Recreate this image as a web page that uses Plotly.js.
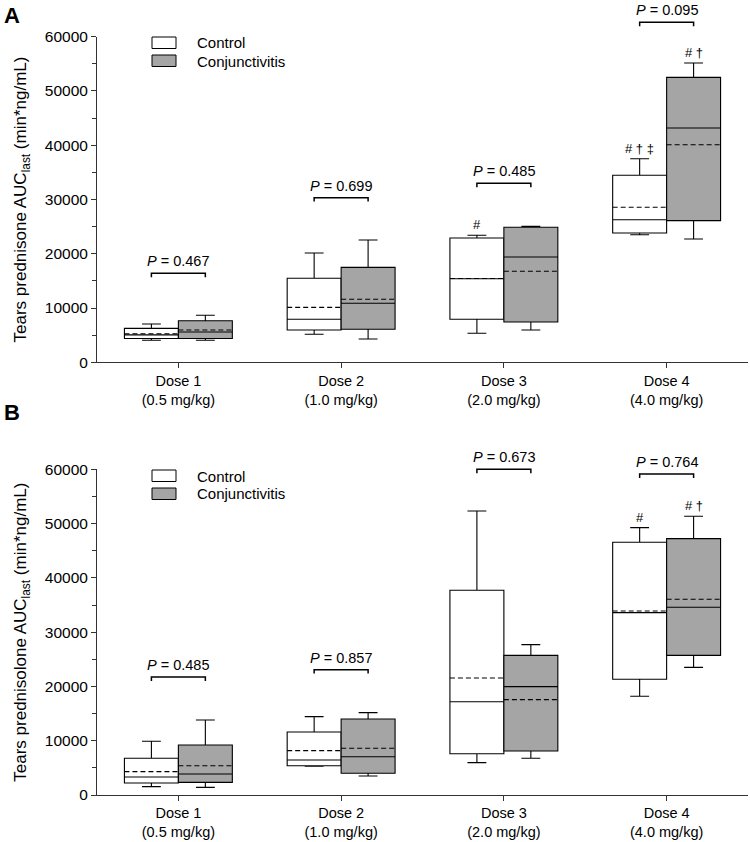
<!DOCTYPE html>
<html>
<head>
<meta charset="utf-8">
<script src="https://cdn.plot.ly/plotly-3.0.1.min.js"></script>
<style>
  html, body { margin: 0; padding: 0; background: #fff; }
  #chart { width: 750px; height: 842px; }
</style>
</head>
<body>
<div id="chart"></div>
<script>
// ---------- data ----------
const doses = ['Dose 1<br>(0.5 mg/kg)', 'Dose 2<br>(1.0 mg/kg)', 'Dose 3<br>(2.0 mg/kg)', 'Dose 4<br>(4.0 mg/kg)'];
const groups = ['Control', 'Conjunctivitis'];

// Panel A: tears prednisone AUClast
const A_ctrl_low  = [4050, 5160, 5340, 23510];
const A_ctrl_q1   = [4380, 5950, 7920, 23830];
const A_ctrl_med  = [5050, 7920, 15400, 26280];
const A_ctrl_mean = [5250, 10130, 15450, 28560];
const A_ctrl_q3   = [6260, 15480, 22900, 34460];
const A_ctrl_high = [7060, 20140, 23400, 37520];

const A_conj_low  = [4050, 4290, 5950, 22720];
const A_conj_q1   = [4380, 6080, 7430, 26110];
const A_conj_med  = [5580, 10870, 19400, 43170];
const A_conj_mean = [5950, 11610, 16770, 40100];
const A_conj_q3   = [7670, 17500, 24880, 52510];
const A_conj_high = [8660, 22540, 25060, 55150];

const A_pvals    = ['0.467', '0.699', '0.485', '0.095'];
const A_brackets = [16400, 30330, 32980, 62650];
const A_ctrl_sig = ['', '', '#', '# \u2020 \u2021'];
const A_conj_sig = ['', '', '', '# \u2020'];

// Panel B: tears prednisolone AUClast
const B_ctrl_low  = [1540, 5300, 5960, 18180];
const B_ctrl_q1   = [2210, 5400, 7610, 21310];
const B_ctrl_med  = [3320, 6450, 17190, 33590];
const B_ctrl_mean = [4300, 8170, 21560, 33900];
const B_ctrl_q3   = [6760, 11610, 37710, 46550];
const B_ctrl_high = [9890, 14430, 52320, 49250];

const B_conj_low  = [1410, 3500, 6760, 23520];
const B_conj_q1   = [2330, 4000, 8110, 25730];
const B_conj_med  = [3870, 7060, 19960, 34580];
const B_conj_mean = [5400, 8600, 17570, 36050];
const B_conj_q3   = [9210, 14000, 25730, 47220];
const B_conj_high = [13820, 15170, 27700, 51340];

const B_pvals    = ['0.485', '0.857', '0.673', '0.764'];
const B_brackets = [21740, 23080, 60000, 59140];
const B_ctrl_sig = ['', '', '', '#'];
const B_conj_sig = ['', '', '', '# \u2020'];

// ---------- styling ----------
const FONT = 'Liberation Sans, Arial, Helvetica, sans-serif';
const YMAX = 60000;
const BOXGAP = 0.337;
const HALF = (1 - BOXGAP) / 4;       // centre offset of each box in a group
const CTRL_FILL = '#ffffff';
const CONJ_FILL = '#a5a5a5';

function boxTrace(name, fill, low, q1, med, mean, q3, high, xa, ya, panel, og) {
  return {
    type: 'box', name: name, x: doses,
    lowerfence: low, q1: q1, median: med, mean: mean, q3: q3, upperfence: high,
    boxmean: true, boxpoints: false,
    alignmentgroup: panel, offsetgroup: og,
    fillcolor: fill, line: { color: '#000', width: 1.1 },
    whiskerwidth: 0.35, xaxis: xa, yaxis: ya, showlegend: false, hoverinfo: 'skip'
  };
}

const data = [
  boxTrace(groups[0], CTRL_FILL, A_ctrl_low, A_ctrl_q1, A_ctrl_med, A_ctrl_mean, A_ctrl_q3, A_ctrl_high, 'x', 'y', 'A', 'ctrl'),
  boxTrace(groups[1], CONJ_FILL, A_conj_low, A_conj_q1, A_conj_med, A_conj_mean, A_conj_q3, A_conj_high, 'x', 'y', 'A', 'conj'),
  boxTrace(groups[0], CTRL_FILL, B_ctrl_low, B_ctrl_q1, B_ctrl_med, B_ctrl_mean, B_ctrl_q3, B_ctrl_high, 'x2', 'y2', 'B', 'ctrl'),
  boxTrace(groups[1], CONJ_FILL, B_conj_low, B_conj_q1, B_conj_med, B_conj_mean, B_conj_q3, B_conj_high, 'x2', 'y2', 'B', 'conj')
];

const shapes = [];
const annotations = [];

function addPanel(xa, ya, pvals, brackets, ctrlSig, conjSig, ctrlHigh, conjHigh) {
  pvals.forEach((p, i) => {
    const yb = brackets[i] / YMAX;           // fraction of the y-axis domain
    const tick = 0.012;
    shapes.push({
      type: 'path', xref: xa, yref: ya + ' domain',
      path: `M ${i - HALF} ${yb - tick} L ${i - HALF} ${yb} L ${i + HALF} ${yb} L ${i + HALF} ${yb - tick}`,
      line: { color: '#000', width: 1.5 }
    });
    annotations.push({
      xref: xa, yref: ya + ' domain', x: i, y: yb, yanchor: 'bottom', yshift: 2,
      text: '<i>P</i> = ' + p, showarrow: false, font: { size: 14.5, family: FONT, color: '#000' }
    });
    if (ctrlSig[i]) annotations.push({
      xref: xa, yref: ya + ' domain', x: i - HALF, y: ctrlHigh[i] / YMAX, yanchor: 'bottom', yshift: 1,
      text: ctrlSig[i], showarrow: false, font: { size: 13, family: FONT, color: '#000' }
    });
    if (conjSig[i]) annotations.push({
      xref: xa, yref: ya + ' domain', x: i + HALF, y: conjHigh[i] / YMAX, yanchor: 'bottom', yshift: 1,
      text: conjSig[i], showarrow: false, font: { size: 13, family: FONT, color: '#000' }
    });
  });
}
addPanel('x', 'y', A_pvals, A_brackets, A_ctrl_sig, A_conj_sig, A_ctrl_high, A_conj_high);
addPanel('x2', 'y2', B_pvals, B_brackets, B_ctrl_sig, B_conj_sig, B_ctrl_high, B_conj_high);

// manual legends (paper coords)
const W = 750, H = 842, ML = 97, MR = 2;
const px = v => (v - ML) / (W - ML - MR);
const py = v => 1 - v / H;
function addLegend(top) {
  [[CTRL_FILL, groups[0], 0], [CONJ_FILL, groups[1], 18]].forEach(([fill, label, dy]) => {
    shapes.push({
      type: 'rect', xref: 'paper', yref: 'paper',
      x0: px(152), x1: px(176), y0: py(top + dy), y1: py(top + dy + 11.5),
      fillcolor: fill, line: { color: '#000', width: 1 }
    });
    annotations.push({
      xref: 'paper', yref: 'paper', x: px(195), y: py(top + dy + 6), xanchor: 'left', yanchor: 'middle',
      text: label, showarrow: false, font: { size: 15, family: FONT, color: '#000' }
    });
  });
}
addLegend(37);
addLegend(470);

annotations.push({ xref: 'paper', yref: 'paper', x: px(2), y: py(1), xanchor: 'left', yanchor: 'top',
  text: '<b>A</b>', showarrow: false, font: { size: 22, family: FONT, color: '#000' } });
annotations.push({ xref: 'paper', yref: 'paper', x: px(2), y: py(398), xanchor: 'left', yanchor: 'top',
  text: '<b>B</b>', showarrow: false, font: { size: 22, family: FONT, color: '#000' } });

function xAxis(anchor) {
  return {
    anchor: anchor, type: 'category', range: [-0.5, 3.5], domain: [0, 1],
    showline: true, linecolor: '#333', linewidth: 1, ticks: 'outside', ticklen: 5, tickcolor: '#333',
    showgrid: false, zeroline: false, tickfont: { size: 14.5, family: FONT, color: '#000' }
  };
}
function yAxis(anchor, dom, title) {
  return {
    anchor: anchor, domain: dom, range: [0, YMAX], dtick: 10000,
    showline: true, linecolor: '#333', linewidth: 1, ticks: 'outside', ticklen: 5, tickcolor: '#333',
    minor: { dtick: 5000, ticks: 'outside', ticklen: 4, tickcolor: '#333' },
    showgrid: false, zeroline: false, tickformat: 'd',
    tickfont: { size: 15.5, family: FONT, color: '#000' },
    title: { text: title, font: { size: 17, family: FONT, color: '#000' }, standoff: 13 }
  };
}

const layout = {
  width: W, height: H, paper_bgcolor: '#fff', plot_bgcolor: '#fff',
  margin: { l: ML, r: MR, t: 0, b: 0 },
  boxmode: 'group', boxgap: BOXGAP, boxgroupgap: 0,
  showlegend: false,
  xaxis: xAxis('y'),
  yaxis: yAxis('x', [py(362.3), py(36.7)], 'Tears prednisone AUC<sub>last</sub> (min*ng/mL)'),
  xaxis2: xAxis('y2'),
  yaxis2: yAxis('x2', [py(795), py(469.3)], 'Tears prednisolone AUC<sub>last</sub> (min*ng/mL)'),
  shapes: shapes, annotations: annotations
};

Plotly.newPlot('chart', data, layout, { staticPlot: true }).then(() => {
  document.querySelectorAll('.boxlayer path.mean').forEach(p => {
    p.style.strokeDasharray = '5px,3px';
  });
});
</script>
</body>
</html>
